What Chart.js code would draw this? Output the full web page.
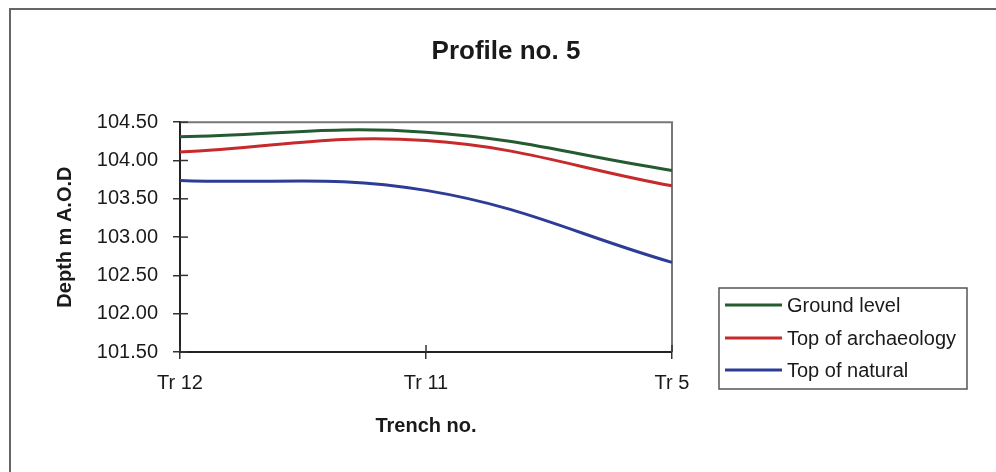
<!DOCTYPE html>
<html>
<head>
<meta charset="utf-8">
<script src="https://cdn.jsdelivr.net/npm/chart.js@4"></script>
<style>
html,body{margin:0;padding:0;background:#fff;}
#wrap{width:996px;height:472px;position:relative;}
</style>
</head>
<body>
<div id="wrap"><canvas id="c" width="996" height="472"></canvas></div>
<script>
const categories = ['Tr 12', 'Tr 11', 'Tr 5'];
const groundLevel = [104.31, 104.37, 103.87];
const topArchaeology = [104.11, 104.26, 103.67];
const topNatural = [103.74, 103.61, 102.67];
const seriesNames = ['Ground level', 'Top of archaeology', 'Top of natural'];
const yTicks = [101.5, 102.0, 102.5, 103.0, 103.5, 104.0, 104.5];

const FONT = "'Liberation Sans', Arial, sans-serif";
const TXT = '#1a1a1a';

const framePlugin = {
  id: 'frame',
  beforeDraw(chart) {
    const ctx = chart.ctx;
    ctx.save();
    ctx.fillStyle = '#fff';
    ctx.fillRect(0, 0, chart.width, chart.height);
    ctx.strokeStyle = '#666';
    ctx.lineWidth = 2;
    ctx.beginPath();
    ctx.moveTo(10, chart.height + 2);
    ctx.lineTo(10, 9);
    ctx.lineTo(chart.width + 2, 9);
    ctx.stroke();
    ctx.restore();
  },
  beforeDatasetsDraw(chart) {
    const ctx = chart.ctx;
    const a = chart.chartArea;
    ctx.save();
    ctx.strokeStyle = '#777';
    ctx.lineWidth = 2;
    ctx.beginPath();
    ctx.moveTo(a.left, a.top);
    ctx.lineTo(a.right, a.top);
    ctx.lineTo(a.right, a.bottom);
    ctx.stroke();
    // inner tick marks
    ctx.strokeStyle = '#333';
    ctx.lineWidth = 1.5;
    const ys = chart.scales.y;
    ys.ticks.forEach((t, i) => {
      const py = ys.getPixelForTick(i);
      ctx.beginPath();
      ctx.moveTo(a.left, py);
      ctx.lineTo(a.left + 8, py);
      ctx.stroke();
    });
    const xs = chart.scales.x;
    xs.ticks.forEach((t, i) => {
      const px = xs.getPixelForTick(i);
      ctx.beginPath();
      ctx.moveTo(px, a.bottom);
      ctx.lineTo(px, a.bottom - 7);
      ctx.stroke();
    });
    ctx.restore();
  },
  afterDraw(chart) {
    const ctx = chart.ctx;
    const a = chart.chartArea;
    const bx = a.right + 47, by = 288, bw = 248, bh = 101;
    ctx.save();
    ctx.strokeStyle = '#555';
    ctx.lineWidth = 1.5;
    ctx.strokeRect(bx, by, bw, bh);
    ctx.font = '20px ' + FONT;
    ctx.textBaseline = 'middle';
    ctx.textAlign = 'left';
    const rows = [305, 338, 370];
    chart.data.datasets.forEach((ds, i) => {
      const y = rows[i];
      ctx.strokeStyle = ds.borderColor;
      ctx.lineWidth = 3;
      ctx.beginPath();
      ctx.moveTo(bx + 6, y);
      ctx.lineTo(bx + 63, y);
      ctx.stroke();
      ctx.fillStyle = TXT;
      ctx.fillText(ds.label, bx + 68, y + 1);
    });
    ctx.restore();
  }
};

new Chart(document.getElementById('c'), {
  type: 'line',
  data: {
    labels: categories,
    datasets: [
      { label: seriesNames[0], data: groundLevel, borderColor: '#245b30' },
      { label: seriesNames[1], data: topArchaeology, borderColor: '#c62a2b' },
      { label: seriesNames[2], data: topNatural, borderColor: '#2d3d96' }
    ]
  },
  options: {
    responsive: false,
    animation: false,
    devicePixelRatio: 1,
    layout: { padding: { left: 16, right: 0, top: 0, bottom: 0 } },
    elements: {
      line: { borderWidth: 3, tension: 0.4, fill: false },
      point: { radius: 0, hoverRadius: 0 }
    },
    plugins: {
      legend: { display: false },
      tooltip: { enabled: false },
      title: {
        display: true,
        text: 'Profile no. 5',
        color: TXT,
        font: { family: FONT, size: 26, weight: 'bold', lineHeight: 1.2 },
        padding: { top: 36, bottom: 55 }
      }
    },
    scales: {
      x: {
        type: 'category',
        offset: false,
        grid: { display: true, drawOnChartArea: false, drawTicks: true, tickLength: 7, color: '#333', lineWidth: 1.5 },
        border: { display: true, color: '#222', width: 2 },
        ticks: { color: TXT, font: { family: FONT, size: 20 }, padding: 12, maxRotation: 0, autoSkip: false },
        title: { display: true, text: 'Trench no.', color: TXT, font: { family: FONT, size: 20, weight: 'bold', lineHeight: 1.2 }, padding: { top: 0, bottom: 34 } },
        afterFit(s) { s.height = 120; }
      },
      y: {
        type: 'linear',
        position: 'left',
        min: 101.5,
        max: 104.5,
        afterBuildTicks(s) { s.ticks = yTicks.map(v => ({ value: v })); },
        grid: { display: true, drawOnChartArea: false, drawTicks: true, tickLength: 7, color: '#333', lineWidth: 1.5 },
        border: { display: true, color: '#222', width: 2 },
        ticks: { color: TXT, font: { family: FONT, size: 20 }, padding: 15, callback: v => Number(v).toFixed(2) },
        title: { display: true, text: 'Depth m A.O.D', color: TXT, font: { family: FONT, size: 20, weight: 'bold', lineHeight: 1.2 }, padding: { top: 37, bottom: 0 } },
        afterFit(s) { s.width = 164; }
      },
      yR: {
        type: 'linear',
        position: 'right',
        display: true,
        grid: { display: false, drawTicks: false },
        border: { display: false },
        ticks: { display: false },
        afterFit(s) { s.width = 324; }
      }
    }
  },
  plugins: [framePlugin]
});
</script>
</body>
</html>
